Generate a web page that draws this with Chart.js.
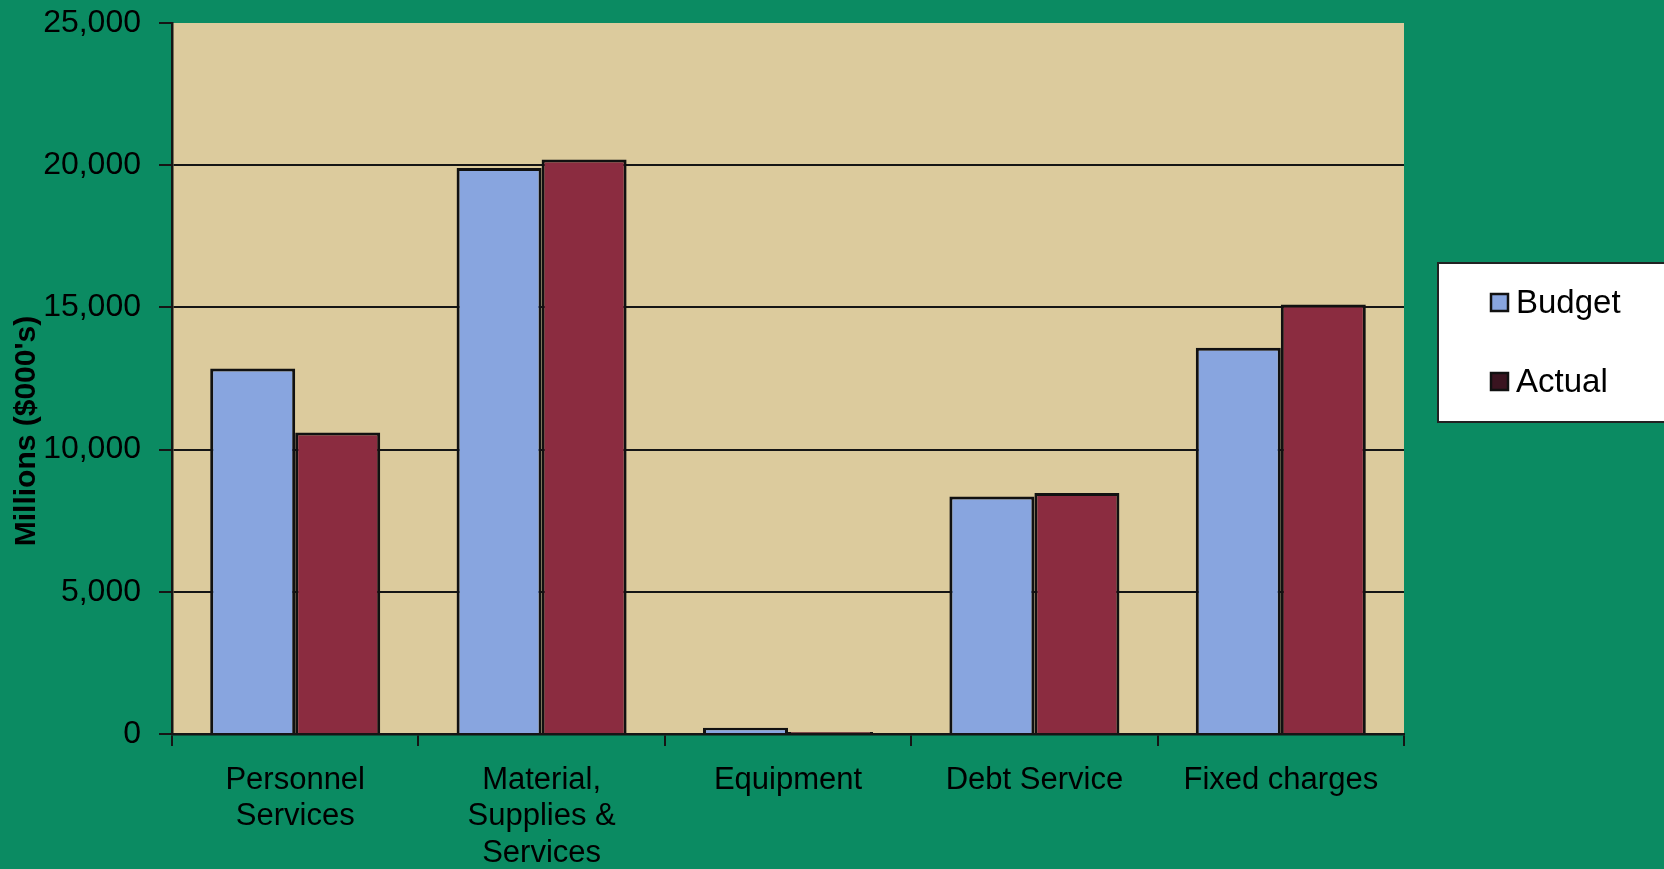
<!DOCTYPE html>
<html>
<head>
<meta charset="utf-8">
<script src="https://cdn.jsdelivr.net/npm/chart.js@4/dist/chart.umd.min.js"></script>
<style>
html,body{margin:0;padding:0;background:#0b8b62;}
#wrap{width:1664px;height:869px;}
</style>
</head>
<body>
<div id="wrap"><canvas id="c" width="1664" height="869"></canvas></div>
<script>
const categories = [
  ['Personnel', 'Services'],
  ['Material,', 'Supplies &', 'Services'],
  'Equipment',
  'Debt Service',
  'Fixed charges'
];
const budget = [12850, 19900, 220, 8350, 13580];
const actual = [10600, 20200, 70, 8470, 15100];
const yTicks = [0, 5000, 10000, 15000, 20000, 25000];
const yAxisTitle = "Millions ($000's)";
const seriesNames = ['Budget', 'Actual'];

const COLORS = {
  bg: '#0b8b62',
  plot: '#dccb9d',
  budget: '#88a5df',
  actual: '#8b2c40',
  line: '#151515'
};

const bgPlugin = {
  id: 'bgPlugin',
  beforeDraw(chart) {
    const {ctx, chartArea: a} = chart;
    ctx.save();
    ctx.fillStyle = COLORS.bg;
    ctx.fillRect(0, 0, chart.width, chart.height);
    ctx.fillStyle = COLORS.plot;
    ctx.fillRect(a.left, a.top, a.right - a.left, a.bottom - a.top);
    ctx.restore();
  },
  afterDraw(chart) {
    const ctx = chart.ctx;
    ctx.save();
    // y axis title
    ctx.translate(27, 431);
    ctx.rotate(-Math.PI / 2);
    ctx.fillStyle = '#000';
    ctx.font = 'bold 30px "Liberation Sans", Arial, sans-serif';
    ctx.textAlign = 'center';
    ctx.textBaseline = 'middle';
    ctx.fillText(yAxisTitle, 0, 0);
    ctx.restore();

    // legend
    ctx.save();
    ctx.fillStyle = '#ffffff';
    ctx.fillRect(1438, 263, 240, 159);
    ctx.strokeStyle = '#222';
    ctx.lineWidth = 2;
    ctx.strokeRect(1438, 263, 240, 159);
    const items = [
      {name: chart.data.datasets[0].label, color: COLORS.budget, y: 303},
      {name: chart.data.datasets[1].label, color: '#3a1420', y: 382}
    ];
    ctx.font = '33px "Liberation Sans", Arial, sans-serif';
    ctx.textBaseline = 'middle';
    ctx.textAlign = 'left';
    items.forEach(it => {
      ctx.fillStyle = it.color;
      ctx.fillRect(1491, it.y - 9, 17, 17);
      ctx.strokeStyle = '#111';
      ctx.lineWidth = 2.5;
      ctx.strokeRect(1491, it.y - 9, 17, 17);
      ctx.fillStyle = '#000';
      ctx.fillText(it.name, 1516, it.y + 1);
    });
    ctx.restore();
  }
};

new Chart(document.getElementById('c'), {
  type: 'bar',
  data: {
    labels: categories,
    datasets: [
      {label: seriesNames[0], data: budget, backgroundColor: COLORS.budget, borderColor: '#111', borderWidth: 3},
      {label: seriesNames[1], data: actual, backgroundColor: COLORS.actual, borderColor: '#111', borderWidth: 3}
    ]
  },
  options: {
    responsive: false,
    animation: false,
    devicePixelRatio: 1,
    layout: {padding: {top: 23, right: 260, left: 0, bottom: 0}},
    datasets: {bar: {categoryPercentage: 0.69, barPercentage: 1.0}},
    plugins: {
      legend: {display: false},
      title: {display: false},
      tooltip: {enabled: false}
    },
    scales: {
      x: {
        afterFit(scale) { scale.height = 135; scale.paddingLeft = 0; scale.paddingRight = 0; },
        grid: {
          display: true,
          offset: true,
          drawOnChartArea: false,
          drawTicks: true,
          tickLength: 12,
          tickColor: COLORS.line,
          lineWidth: 2
        },
        border: {display: true, color: COLORS.line, width: 2.5},
        ticks: {
          color: '#000',
          padding: 16,
          maxRotation: 0,
          autoSkip: false,
          font: {family: '"Liberation Sans", Arial, sans-serif', size: 31, lineHeight: 1.18}
        }
      },
      y: {
        min: 0,
        max: 25000,
        afterFit(scale) { scale.width = 172; scale.paddingTop = 0; scale.paddingBottom = 0; },
        afterBuildTicks(scale) { scale.ticks = yTicks.map(v => ({value: v})); },
        grid: {
          color: ctx => (ctx.tick && ctx.tick.value === 25000) ? 'rgba(0,0,0,0)' : COLORS.line,
          tickColor: COLORS.line,
          lineWidth: 2,
          drawTicks: true,
          tickLength: 13
        },
        border: {display: true, color: COLORS.line, width: 2.5},
        ticks: {
          color: '#000',
          padding: 18,
          font: {family: '"Liberation Sans", Arial, sans-serif', size: 32},
          callback: v => v.toLocaleString('en-US')
        }
      }
    }
  },
  plugins: [bgPlugin]
});
</script>
</body>
</html>
